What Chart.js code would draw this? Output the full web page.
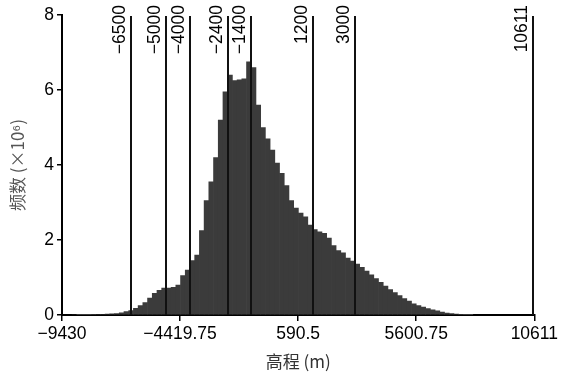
<!DOCTYPE html>
<html>
<head>
<meta charset="utf-8">
<script src="https://cdn.jsdelivr.net/npm/chart.js@4.4.0/dist/chart.umd.min.js"></script>
<style>
  html, body { margin: 0; padding: 0; background: #fff; }
  #wrap { width: 561px; height: 376px; }
</style>
</head>
<body>
<div id="wrap"><canvas id="chart-elevation"></canvas></div>
<script>
// bin centres (m) and counts (x10^6), 200 m bins
const binCenters = [
  -8900, -8700, -8500, -8300, -8100, -7900, -7700, -7500, -7300, -7100,
  -6900, -6700, -6500, -6300, -6100, -5900, -5700, -5500, -5300, -5100,
  -4900, -4700, -4500, -4300, -4100, -3900, -3700, -3500, -3300, -3100,
  -2900, -2700, -2500, -2300, -2100, -1900, -1700, -1500, -1300, -1100,
  -900, -700, -500, -300, -100, 100, 300, 500, 700, 900,
  1100, 1300, 1500, 1700, 1900, 2100, 2300, 2500, 2700, 2900,
  3100, 3300, 3500, 3700, 3900, 4100, 4300, 4500, 4700, 4900,
  5100, 5300, 5500, 5700, 5900, 6100, 6300, 6500, 6700, 6900,
  7100, 7300, 7500, 7700, 7900
];
const counts = [
  0.0, 0.005, 0.01, 0.01, 0.015, 0.02, 0.02, 0.025, 0.03, 0.04,
  0.06, 0.09, 0.12, 0.18, 0.25, 0.33, 0.45, 0.58, 0.66, 0.72,
  0.72, 0.74, 0.8, 1.05, 1.2, 1.45, 1.6, 2.25, 3.05, 3.55,
  4.2, 5.2, 5.95, 6.4, 6.25, 6.27, 6.3, 6.75, 6.6, 5.6,
  5.0, 4.7, 4.4, 4.05, 3.78, 3.45, 3.05, 2.85, 2.72, 2.62,
  2.4, 2.28, 2.22, 2.18, 2.05, 1.85, 1.72, 1.66, 1.52, 1.44,
  1.36, 1.27, 1.17, 1.07, 0.97, 0.87, 0.77, 0.68, 0.6, 0.52,
  0.44, 0.37, 0.3, 0.25, 0.21, 0.17, 0.14, 0.11, 0.08, 0.05,
  0.035, 0.025, 0.015, 0.01, 0.005
];
const xTicks = [-9430, -4419.75, 590.5, 5600.75, 10611];
const yTicks = [0, 2, 4, 6, 8];
const markValues = [-6500, -5000, -4000, -2400, -1400, 1200, 3000, 10611];

const latin = "'Liberation Sans', Arial, sans-serif";
const cjk = "'Noto Sans CJK SC', 'Liberation Sans', sans-serif";

function fmt(v) {
    return v < 0 ? '\u2212' + Math.abs(v) : String(v);
}

// vertical reference lines with rotated labels
const markLines = {
    id: 'markLines',
    afterDatasetsDraw(chart) {
        const ctx = chart.ctx;
        const xs = chart.scales.x;
        const area = chart.chartArea;
        ctx.save();
        ctx.strokeStyle = '#111';
        ctx.lineWidth = 2;
        ctx.fillStyle = '#000';
        ctx.font = '17.5px ' + latin;
        markValues.forEach(v => {
            const px = Math.round(xs.getPixelForValue(v)) - (v === xs.max ? 1 : 0);
            ctx.beginPath();
            ctx.moveTo(px, area.top + 1);
            ctx.lineTo(px, area.bottom);
            ctx.stroke();

            ctx.save();
            ctx.translate(px - 6, 5);
            ctx.rotate(-Math.PI / 2);
            ctx.textAlign = 'right';
            ctx.textBaseline = 'alphabetic';
            ctx.fillText(fmt(v), 0, 0);
            ctx.restore();
        });
        ctx.restore();
    }
};

new Chart(document.getElementById('chart-elevation'), {
    type: 'bar',
    data: {
        datasets: [{
            data: binCenters.map((x, i) => ({ x: x, y: counts[i] })),
            backgroundColor: '#3b3b3b',
            borderWidth: 0,
            barPercentage: 1,
            categoryPercentage: 1
        }]
    },
    options: {
        responsive: true,
        maintainAspectRatio: false,
        animation: false,
        layout: { padding: { top: 15, right: 22, left: 0, bottom: 0 } },
        plugins: { legend: { display: false }, tooltip: { enabled: false } },
        scales: {
            x: {
                type: 'linear',
                min: -9430,
                max: 10611,
                offset: false,
                afterBuildTicks: s => { s.ticks = xTicks.map(v => ({ value: v })); },
                afterFit: s => { s.height = 61; },
                ticks: {
                    autoSkip: false,
                    maxRotation: 0,
                    padding: 3,
                    color: '#000',
                    font: { family: latin, size: 17.5 },
                    callback: v => fmt(v)
                },
                grid: { offset: false, drawOnChartArea: false, drawTicks: true, tickLength: 6, color: '#000', lineWidth: 1.5 },
                border: { display: true, color: '#000', width: 2 },
                title: {
                    display: true,
                    text: '高程 (m)',
                    color: '#333',
                    font: { family: cjk, size: 17 },
                    padding: { top: 0, bottom: 4 }
                }
            },
            y: {
                min: 0,
                max: 8,
                afterBuildTicks: s => { s.ticks = yTicks.map(v => ({ value: v })); },
                afterFit: s => { s.width = 62; },
                ticks: {
                    padding: 3,
                    color: '#000',
                    font: { family: latin, size: 17.5 }
                },
                grid: { drawOnChartArea: false, drawTicks: true, tickLength: 5, color: '#000', lineWidth: 1.5 },
                border: { display: true, color: '#000', width: 2 },
                title: {
                    display: true,
                    text: '频数 (×10⁶)',
                    color: '#555',
                    font: { family: cjk, size: 17 },
                    padding: { top: 7, bottom: 0 }
                }
            }
        }
    },
    plugins: [markLines]
});
</script>
</body>
</html>
